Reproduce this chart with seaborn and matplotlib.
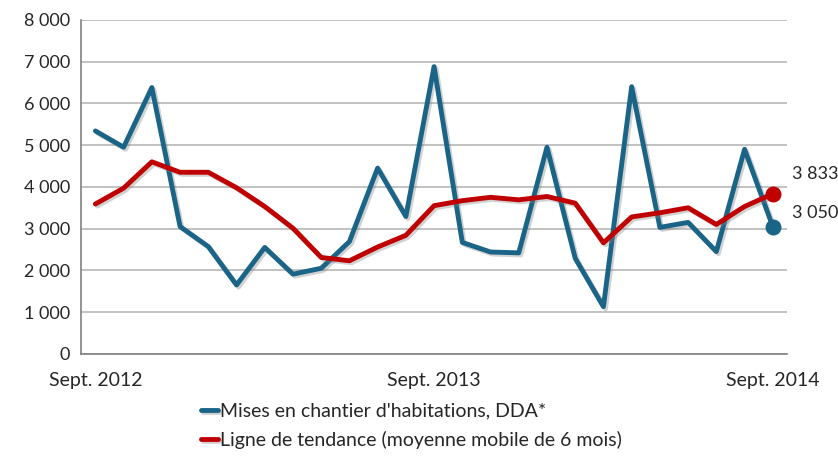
# Mises en chantier d'habitations - DDA

import numpy as np
import pandas as pd
import seaborn as sns
import matplotlib.pyplot as plt
import matplotlib.patheffects as pe

# Monthly values, Sept. 2012 -> Sept. 2014
mois = list(range(25))
mises_en_chantier = [5340, 4950, 6380, 3050, 2570, 1650, 2550, 1910, 2050, 2690,
                     4450, 3290, 6880, 2670, 2440, 2420, 4950, 2290, 1130, 6400,
                     3030, 3150, 2450, 4900, 3050]
tendance = [3590, 3970, 4600, 4350, 4350, 3980, 3530, 3010, 2310, 2230,
            2560, 2840, 3550, 3670, 3750, 3690, 3770, 3610, 2660, 3280,
            3380, 3500, 3100, 3530, 3833]
x_labels = {0: 'Sept. 2012', 12: 'Sept. 2013', 24: 'Sept. 2014'}
y_ticks = [0, 1000, 2000, 3000, 4000, 5000, 6000, 7000, 8000]

blue = '#1A6488'
red = '#C00000'

df = pd.DataFrame({'mois': mois,
                   'Mises en chantier d\'habitations, DDA*': mises_en_chantier,
                   'Ligne de tendance (moyenne mobile de 6 mois)': tendance})

sns.set_style('white')
plt.rcParams['font.family'] = ['Lato', 'DejaVu Sans']

fig = plt.figure(figsize=(8.38, 4.62), dpi=100)
ax = fig.add_axes([0.097, 0.234, 0.842, 0.723])

shadow = [pe.SimpleLineShadow(offset=(1.5, -1.5), shadow_color='gray', alpha=0.35), pe.Normal()]

sns.lineplot(data=df, x='mois', y='Mises en chantier d\'habitations, DDA*', ax=ax,
             color=blue, lw=3.5, label='Mises en chantier d\'habitations, DDA*',
             path_effects=shadow, zorder=3)
sns.lineplot(data=df, x='mois', y='Ligne de tendance (moyenne mobile de 6 mois)', ax=ax,
             color=red, lw=3.5, label='Ligne de tendance (moyenne mobile de 6 mois)',
             path_effects=shadow, zorder=4)

# end points
ax.scatter([mois[-1]], [mises_en_chantier[-1]], s=110, color=blue, zorder=5)
ax.scatter([mois[-1]], [tendance[-1]], s=110, color=red, zorder=5)
ax.annotate(f'{tendance[-1]:,}'.replace(',', ' '), (mois[-1], tendance[-1]),
            xytext=(14, 14), textcoords='offset points', fontsize=13, va='center',
            annotation_clip=False)
ax.annotate(f'{mises_en_chantier[-1]:,}'.replace(',', ' '), (mois[-1], mises_en_chantier[-1]),
            xytext=(14, 10), textcoords='offset points', fontsize=13, va='center',
            annotation_clip=False)

ax.set_xlim(-0.5, 24.5)
ax.set_ylim(0, 8000)
ax.set_yticks(y_ticks)
ax.set_yticklabels([f'{v:,}'.replace(',', ' ') for v in y_ticks], fontsize=13)
ax.yaxis.grid(True, color='#b8b8b8', lw=1.2)
ax.set_axisbelow(True)

ax.set_xticks(np.arange(-0.5, 24.6, 0.5))
ax.set_xticklabels([])
ax.tick_params(axis='x', direction='out', length=6, color='#808080', width=1)
ax.tick_params(axis='y', length=0, pad=8)
for k, lab in x_labels.items():
    ax.text(k, -0.055, lab, transform=ax.get_xaxis_transform(), ha='center', va='top', fontsize=14)

for s in ['top', 'right']:
    ax.spines[s].set_visible(False)
for s in ['left', 'bottom']:
    ax.spines[s].set_color('#808080')
    ax.spines[s].set_linewidth(1.2)
ax.set_xlabel('')
ax.set_ylabel('')

ax.legend(loc='upper left', bbox_to_anchor=(0.23, 0.145), bbox_transform=fig.transFigure,
          frameon=False, fontsize=14, handlelength=0.9, handletextpad=0.1,
          labelspacing=0.55, borderaxespad=0)

plt.savefig('out.png', dpi=100)
